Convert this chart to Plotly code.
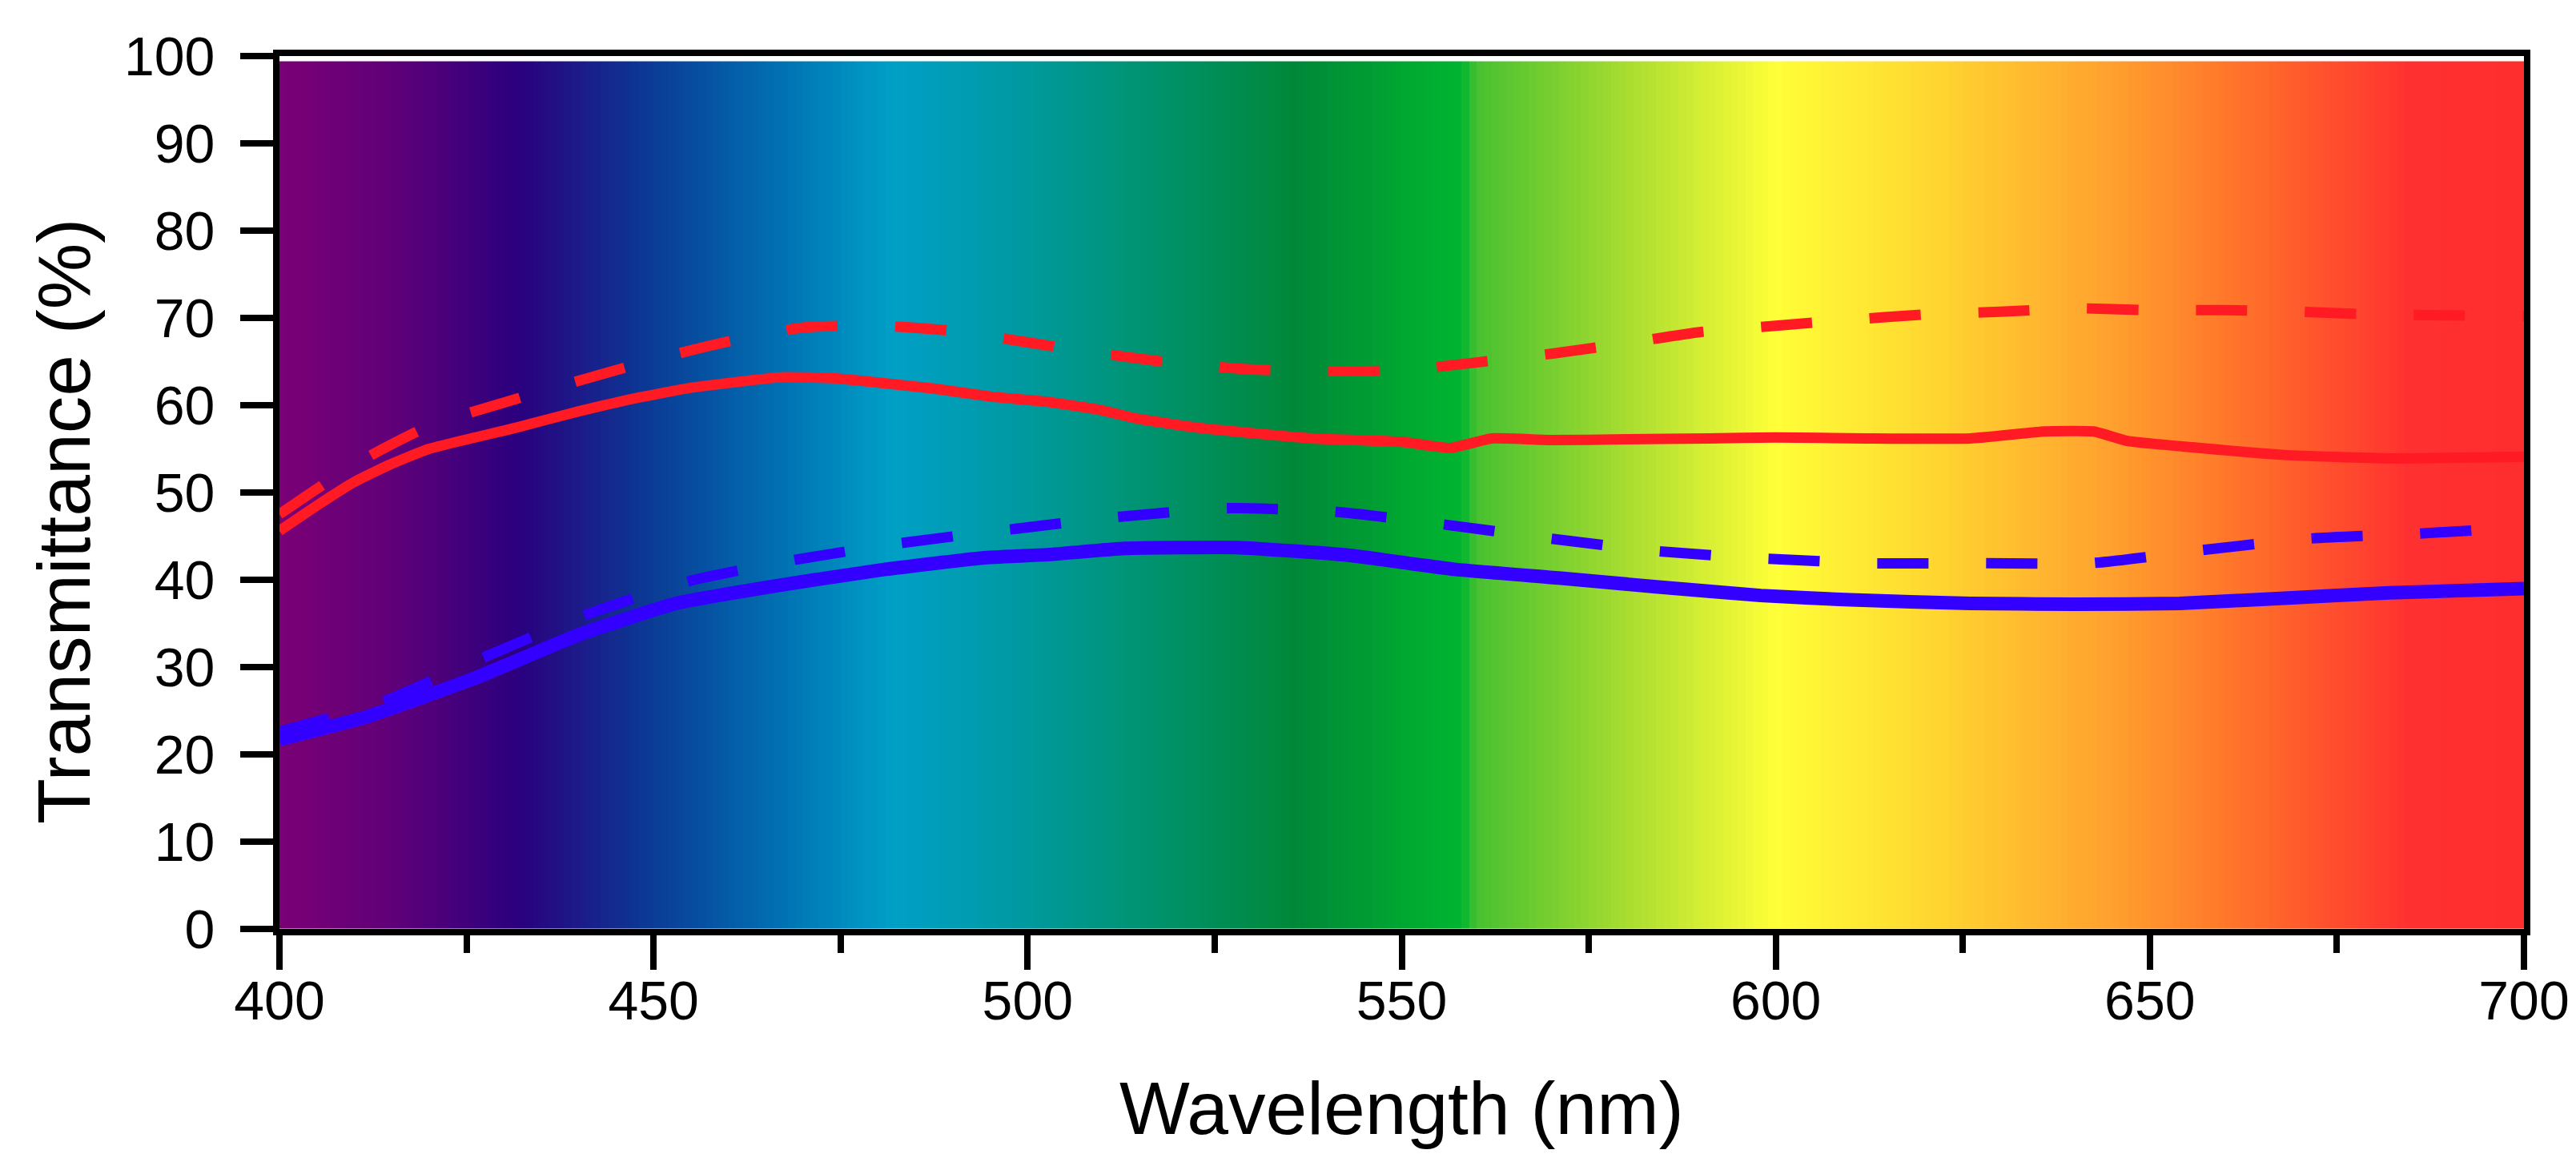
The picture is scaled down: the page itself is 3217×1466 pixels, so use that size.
import numpy as np
import plotly.graph_objects as go

# --- data ------------------------------------------------------------------
red_solid_wl = [400, 405, 410, 414.5, 420, 431.5, 440, 446.5, 455, 467, 474, 480,
                487.5, 495, 502.5, 509.4, 515, 523, 530, 538, 550, 556.5, 562, 570,
                580, 591, 600, 612, 626, 636, 642.5, 647, 658, 668, 682, 700]
red_solid_t = [45.6, 48.5, 51.2, 53.1, 55.0, 57.4, 59.3, 60.6, 62.0, 63.2, 63.1, 62.6,
               61.9, 61.0, 60.4, 59.5, 58.4, 57.4, 56.8, 56.2, 55.8, 55.1, 56.2, 56.0,
               56.1, 56.2, 56.3, 56.2, 56.2, 57.0, 57.0, 55.9, 55.0, 54.3, 53.9, 54.1]

red_dash_wl = [400, 410, 420, 430, 440, 450, 460, 470, 480, 490, 500, 510, 520, 530,
               540, 550, 560, 570, 580, 590, 600, 610, 620, 630, 640, 650, 660, 670,
               680, 690, 700]
red_dash_t = [47.5, 53.2, 57.6, 60.3, 62.8, 65.2, 67.3, 68.9, 69.1, 68.5, 67.2, 65.9,
              64.8, 64.1, 63.9, 64.0, 64.9, 65.9, 67.1, 68.4, 69.1, 69.8, 70.4, 70.7,
              71.1, 70.9, 70.9, 70.7, 70.4, 70.3, 70.2]

blue_solid_wl = [400, 412, 426, 440, 453, 467, 481, 494, 503, 513, 528, 543, 557, 571,
                 584, 598, 610, 626, 640, 654, 668, 682, 700]
blue_solid_t = [21.7, 24.4, 28.7, 33.7, 37.3, 39.4, 41.2, 42.5, 42.9, 43.6, 43.7, 42.8,
                41.2, 40.2, 39.2, 38.2, 37.7, 37.3, 37.2, 37.3, 37.9, 38.5, 39.0]

blue_dash_wl = [400, 414, 427, 441, 455, 469, 483, 497, 512, 527, 541, 556, 570, 584,
                599, 613, 628, 642, 657, 671, 686, 700]
blue_dash_t = [22.6, 26.1, 31.0, 36.0, 39.9, 42.3, 44.2, 45.7, 47.2, 48.2, 47.8, 46.3,
               44.7, 43.3, 42.4, 41.9, 41.9, 41.9, 43.4, 44.7, 45.3, 46.0]

# spectrum colours behind the curves (wavelength, colour)
spectrum_wl = [400, 415, 432, 450, 468, 482, 497, 513, 536, 552, 558, 560, 580,
               600, 622, 645, 665, 685, 700]
spectrum_col = ['#7b0076', '#600078', '#2a007e', '#0a3c96', '#0074b4', '#00a0c6',
                '#009aa6', '#009478', '#008838', '#00aa30', '#00b430', '#48c030',
                '#a8dc30', '#ffff38', '#ffd430', '#ffa02e', '#ff6a2a', '#ff3030',
                '#ff2e2e']

font_family = "Liberation Sans, Arial, sans-serif"

# background gradient as a one-row heatmap (1 nm wide bricks)
edges = np.arange(400, 701, 1)
centers = (edges[:-1] + edges[1:]) / 2.0
colorscale = [[(w - 400) / 300.0, c] for w, c in zip(spectrum_wl, spectrum_col)]

fig = go.Figure()

fig.add_trace(go.Heatmap(
    z=[centers],
    x=edges,
    y=[0, 99.4],
    zmin=400,
    zmax=700,
    colorscale=colorscale,
    showscale=False,
    hoverinfo='skip',
))

red = '#ff1a24'
blue = '#3300ff'

fig.add_trace(go.Scatter(x=red_dash_wl, y=red_dash_t, mode='lines',
                         line=dict(color=red, width=13, dash='64px,72px',
                                   shape='spline', smoothing=0.6)))
fig.add_trace(go.Scatter(x=red_solid_wl, y=red_solid_t, mode='lines',
                         line=dict(color=red, width=13, shape='spline', smoothing=0.4)))
fig.add_trace(go.Scatter(x=blue_dash_wl, y=blue_dash_t, mode='lines',
                         line=dict(color=blue, width=13, dash='64px,72px',
                                   shape='spline', smoothing=0.6)))
fig.add_trace(go.Scatter(x=blue_solid_wl, y=blue_solid_t, mode='lines',
                         line=dict(color=blue, width=17, shape='spline', smoothing=0.4)))

axis_font = dict(family=font_family, size=68, color='black')

fig.update_xaxes(
    range=[400, 700],
    tick0=400,
    dtick=50,
    ticks='outside',
    ticklen=43,
    tickwidth=8,
    tickcolor='black',
    ticklabelstandoff=-20,
    minor=dict(dtick=25, ticks='outside', ticklen=22, tickwidth=8, tickcolor='black'),
    showline=True,
    linewidth=8,
    linecolor='black',
    mirror=True,
    showgrid=False,
    zeroline=False,
    tickfont=axis_font,
)

fig.update_yaxes(
    range=[0, 100],
    tick0=0,
    dtick=10,
    ticks='outside',
    ticklen=41,
    tickwidth=8,
    tickcolor='black',
    ticklabelstandoff=18,
    showline=True,
    linewidth=8,
    linecolor='black',
    mirror=True,
    showgrid=False,
    zeroline=False,
    tickfont=axis_font,
)

title_font = dict(family=font_family, size=93, color='black')

fig.update_layout(
    width=3217,
    height=1466,
    margin=dict(l=341, r=73, t=62, b=314),
    paper_bgcolor='white',
    plot_bgcolor='white',
    showlegend=False,
    annotations=[
        dict(text='Wavelength (nm)', xref='paper', yref='paper', x=0.5, y=-0.2055,
             xanchor='center', yanchor='middle', showarrow=False, font=title_font),
        dict(text='Transmittance (%)', xref='paper', yref='paper', x=-0.096, y=0.467,
             xanchor='center', yanchor='middle', textangle=-90, showarrow=False,
             font=title_font),
    ],
)

fig.write_html("out.html")
